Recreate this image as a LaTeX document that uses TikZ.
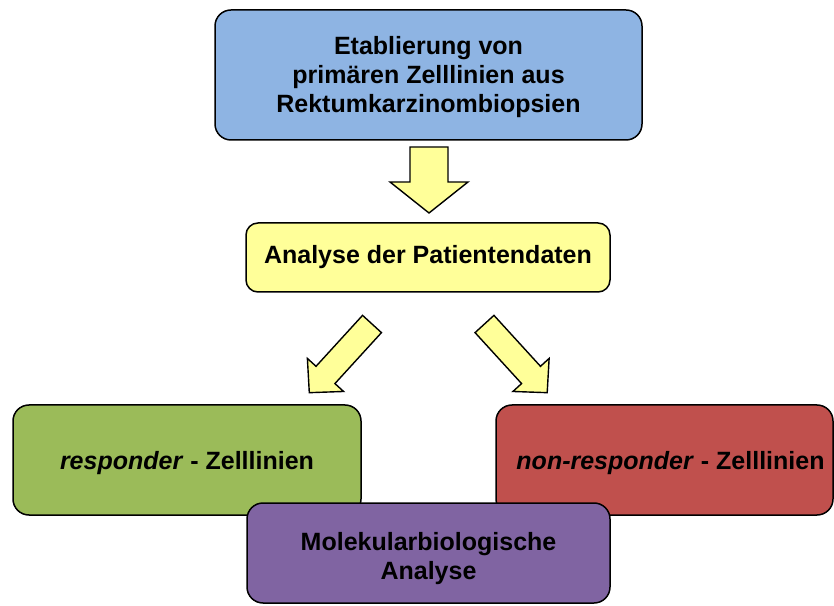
\documentclass[tikz,border=0pt]{standalone}
\usepackage{fontspec}
\setmainfont{Liberation Sans}
\usetikzlibrary{positioning}
\definecolor{kastenblau}{HTML}{8EB4E3}
\definecolor{kastengelb}{HTML}{FFFF99}
\definecolor{kastengruen}{HTML}{9BBB59}
\definecolor{kastenrot}{HTML}{C0504D}
\definecolor{kastenlila}{HTML}{8064A2}
\tikzset{
  kasten/.style={draw=black,line width=1.5pt,rounded corners=16pt,align=center,
    font=\bfseries\fontsize{25}{29}\selectfont,inner sep=0pt},
  pfeil/.style={draw=black,line width=1.4pt,fill=kastengelb,line join=miter}
}
% block arrow: tail, angle, length, shaft half width, head half width, head length
\newcommand{\blockpfeil}[6]{%
  \draw[pfeil,shift={#1},rotate=#2] (0,#4) -- (#3-#6,#4) -- (#3-#6,#5) -- (#3,0)
    -- (#3-#6,-#5) -- (#3-#6,-#4) -- (0,-#4) -- cycle;}
% text lowered inside its box
\newcommand{\tiefer}[2]{\raisebox{-#1}[\height][\depth]{#2}}

\begin{document}
\begin{tikzpicture}[x=1pt,y=1pt]
	\useasboundingbox (0,0) rectangle (834,605);
	%Nodes
	\node[kasten,fill=kastenblau,minimum width=427pt,minimum height=130pt]
		(etablierung) at (428.5,530) {\tiefer{3pt}{\begin{tabular}{@{}c@{}}Etablierung von\\primären Zelllinien aus\\Rektumkarzinombiopsien\end{tabular}}};
	\node[kasten,fill=kastengelb,rounded corners=12pt,minimum width=364pt,minimum height=69pt]
		(patienten) at (428,347.5) {Analyse der Patientendaten};
	\node[kasten,fill=kastengruen,minimum width=348pt,minimum height=110pt]
		(responder) at (187,145) {\tiefer{3pt}{\textit{responder} - Zelllinien}};
	\node[kasten,fill=kastenrot,minimum width=337pt,minimum height=110pt]
		(nonresponder) at (664.5,145) {\tiefer{3pt}{\hspace*{12pt}\textit{non-responder} - Zelllinien}};
	\node[kasten,fill=kastenlila,minimum width=363pt,minimum height=100pt]
		(molekular) at (428.5,52) {\tiefer{6pt}{\begin{tabular}{@{}c@{}}Molekularbiologische\\Analyse\end{tabular}}};

	%Arrows
	\blockpfeil{(429,458)}{-90}{66}{19}{39}{31}
	\blockpfeil{(372,281)}{227.6}{93}{12.8}{24.5}{24}
	\blockpfeil{(484.5,281)}{312.4}{93}{12.8}{24.5}{24}
\end{tikzpicture}
\end{document}
